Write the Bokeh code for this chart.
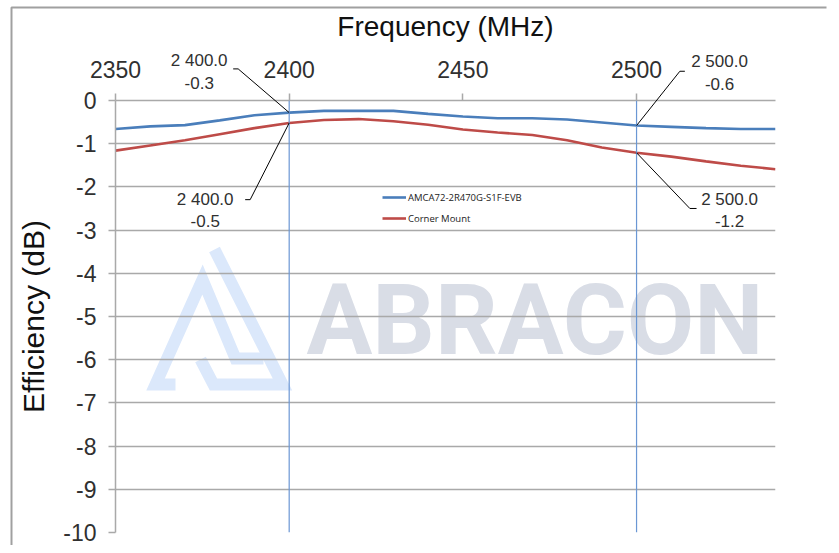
from bokeh.plotting import figure
from bokeh.models import Range1d, FixedTicker, Span, Legend, LegendItem, Column
from bokeh.core.properties import value
from bokeh.embed import file_html
from bokeh.resources import INLINE

# ---------------- data ----------------
freq = [2350, 2360, 2370, 2380, 2390, 2400, 2410, 2420, 2430, 2440,
        2450, 2460, 2470, 2480, 2490, 2500, 2510, 2520, 2530, 2540]
evb = [-0.66, -0.60, -0.57, -0.46, -0.34, -0.28, -0.24, -0.24, -0.24, -0.31,
       -0.37, -0.41, -0.41, -0.44, -0.51, -0.58, -0.61, -0.64, -0.66, -0.66]
corner = [-1.16, -1.04, -0.92, -0.78, -0.64, -0.52, -0.45, -0.43, -0.48, -0.56,
          -0.67, -0.74, -0.80, -0.92, -1.09, -1.21, -1.30, -1.41, -1.51, -1.59]
series_names = ["AMCA72-2R470G-S1F-EVB", "Corner Mount"]
x_ticks = [2350, 2400, 2450, 2500]
y_ticks = [-10, -9, -8, -7, -6, -5, -4, -3, -2, -1, 0]
marker_freqs = [2400, 2500]
watermark_text = "ABRACON"

# ---------------- geometry ----------------
X0, X1 = 2350, 2540
Y0, Y1 = -10, 0
FW, FH = 660, 432
ML, MT = 115, 100          # frame position inside canvas
W, H = 831, 545
KX = (X1 - X0) / FW
KY = (Y1 - Y0) / FH


def px2data(px, py):
    """canvas pixel -> data coordinates (for decoration only)"""
    return X0 + (px - ML) * KX, Y1 - (py - MT) * KY


BLUE = "#4a7ebb"
RED = "#be4b48"
GRID = "#a9a9a9"
TXT = "#303030"

p = figure(frame_width=FW, frame_height=FH,
           x_range=Range1d(X0, X1), y_range=Range1d(Y0, Y1),
           x_axis_location="above",
           output_backend="svg", toolbar_location=None,
           min_border_left=ML, min_border_top=MT,
           min_border_right=W - ML - FW, min_border_bottom=H - MT - FH)
p.outline_line_color = None
p.background_fill_color = "white"
p.border_fill_color = "white"

# axes
for ax, ticks in ((p.xaxis[0], x_ticks), (p.yaxis[0], y_ticks)):
    ax.ticker = FixedTicker(ticks=ticks)
    ax.major_label_overrides = {t: str(t) for t in ticks}
    ax.axis_line_color = GRID
    ax.axis_line_width = 1.5
    ax.major_tick_line_color = GRID
    ax.major_tick_line_width = 1.5
    ax.major_tick_in = 0
    ax.major_tick_out = 7
    ax.minor_tick_line_color = None
    ax.major_label_text_font = "Liberation Sans"
    ax.major_label_text_font_size = "23px"
    ax.major_label_text_color = TXT
    ax.axis_label_text_font = "Liberation Sans"
    ax.axis_label_text_font_style = "normal"
    ax.axis_label_text_color = "#111111"

p.xaxis.axis_label = "Frequency (MHz)"
p.xaxis.axis_label_text_font_size = "28px"
p.xaxis.major_label_standoff = 16
p.xaxis.axis_label_standoff = 16
p.yaxis.axis_label = "Efficiency (dB)"
p.yaxis.axis_label_text_font_size = "30px"
p.yaxis.major_label_standoff = 12
p.yaxis.axis_label_standoff = 10

p.xgrid.visible = False
p.ygrid.grid_line_color = GRID
p.ygrid.grid_line_width = 1.5

# watermark (decoration, behind grid)
wx, wy = px2data(306, 320)
p.text(x=[wx], y=[wy], text=[watermark_text],
       text_font=value("Roboto"), text_font_style="bold",
       text_font_size="98px", text_color="#d9dde6",
       text_baseline="alphabetic", text_align="left", level="image")
logo_px = [
    [(175, 384), (155, 384), (202, 279), (235, 358), (263, 358)],
    [(200, 359), (213, 384), (282, 384), (214, 249)],
]
xs, ys = [], []
for path in logo_px:
    pts = [px2data(a, b) for a, b in path]
    xs.append([q_[0] for q_ in pts])
    ys.append([q_[1] for q_ in pts])
p.multi_line(xs=xs, ys=ys, line_color="#dbe8fb", line_width=12,
             line_join="miter", line_cap="butt", level="image")

# marker verticals
for f in marker_freqs:
    p.add_layout(Span(location=f, dimension="height", line_color="#6b97d4",
                      line_width=1.2))

r1 = p.line(freq, evb, line_color=BLUE, line_width=2.6)
r2 = p.line(freq, corner, line_color=RED, line_width=2.6)

legend = Legend(items=[LegendItem(label=series_names[0], renderers=[r1]),
                       LegendItem(label=series_names[1], renderers=[r2])],
                location=(267, 304))
legend.border_line_color = None
legend.background_fill_alpha = 0
legend.label_text_font = "Open Sans"
legend.label_text_font_size = "9.5px"
legend.label_text_color = "#222222"
legend.glyph_width = 24
legend.glyph_height = 20
legend.label_height = 20
legend.padding = 0
legend.margin = 0
legend.spacing = 1
legend.label_standoff = 2
p.add_layout(legend)

# ---------------- transparent overlay covering the whole canvas ----------------
ox0, oy1 = px2data(0, 0)
ox1, oy0 = px2data(W, H)
q = figure(width=W, height=H, x_range=Range1d(ox0, ox1), y_range=Range1d(oy0, oy1),
           x_axis_location=None, y_axis_location=None, title=None,
           output_backend="svg", toolbar_location=None,
           min_border=0, min_border_left=0, min_border_right=0,
           min_border_top=0, min_border_bottom=0)
q.grid.visible = False
q.outline_line_color = None
q.background_fill_alpha = 0
q.border_fill_alpha = 0
q.styles = {"position": "absolute", "top": "0px", "left": "0px"}
for fig in (p, q):
    try:
        fig.frame_align = False
    except Exception:
        pass

# chart-area border
bx = [px2data(11, H)[0], px2data(11, 7)[0], px2data(826, 7)[0]]
by = [px2data(11, H)[1], px2data(11, 7)[1], px2data(826, 7)[1]]
q.line(bx, by, line_color="#a0a0a0", line_width=2)

# callouts: (series, freq, elbow offset, end offset, text1 offset, text2 offset) in px
callouts = [
    (evb, 2400, (-51, -43.7), (-56, -43.7), (-90, -52), (-90, -30)),
    (corner, 2400, (-39, 76.7), (-44, 76.7), (-84, 77), (-84, 98)),
    (evb, 2500, (43.3, -54.3), (48.3, -54.3), (83, -64), (83, -42)),
    (corner, 2500, (53.3, 55.7), (60, 55.7), (93, 47), (93, 68)),
]
for ser, f, e1, e2, t1, t2 in callouts:
    yv = ser[freq.index(f)]
    lx = [f, f + e1[0] * KX, f + e2[0] * KX]
    ly = [yv, yv - e1[1] * KY, yv - e2[1] * KY]
    q.line(lx, ly, line_color="black", line_width=1)
    l1 = f"{f:,.1f}".replace(",", " ")
    l2 = f"{yv:.1f}"
    for txt, off in ((l1, t1), (l2, t2)):
        q.text(x=[f], y=[yv], text=[txt], x_offset=off[0], y_offset=off[1],
               text_align="center", text_baseline="middle",
               text_font=value("Liberation Sans"), text_font_size="17px",
               text_color=TXT)

layout = Column(children=[p, q])
open("out.html", "w").write(file_html(layout, INLINE))
